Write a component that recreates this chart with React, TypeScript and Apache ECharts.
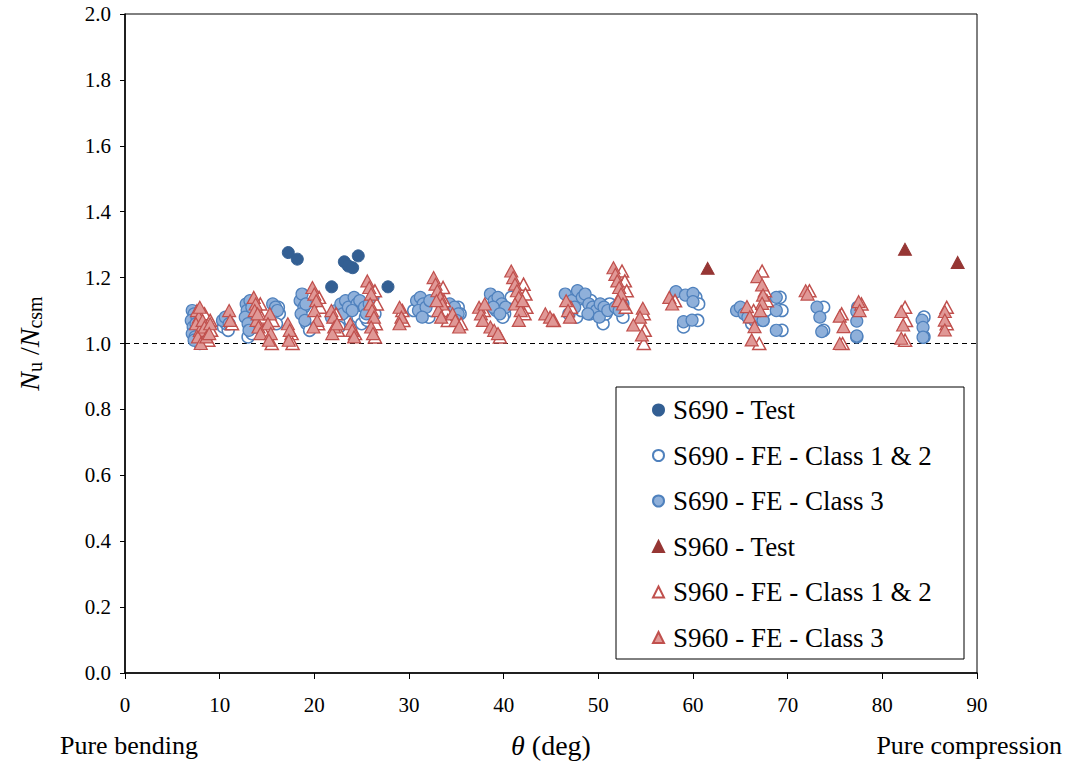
import React, { useEffect, useRef } from "react";
import * as echarts from "echarts";

const X_TICKS = [0, 10, 20, 30, 40, 50, 60, 70, 80, 90];
const Y_TICKS = [0, 0.2, 0.4, 0.6, 0.8, 1.0, 1.2, 1.4, 1.6, 1.8, 2.0];

const S690_TEST: number[][] = [
  [17.25, 1.276], [18.2, 1.256], [21.83, 1.172], [23.17, 1.248], [23.59, 1.235],
  [24.05, 1.23], [24.64, 1.266], [27.78, 1.172],
];

const S690_FE_12: number[][] = [
  [7.8, 1.07], [7.6, 1.03], [7.9, 1.0], [10.4, 1.05], [10.9, 1.04], [10.7, 1.06],
  [13.0, 1.02], [13.4, 1.03], [13.8, 1.05], [13.5, 1.07], [16.3, 1.09], [16.0, 1.06], [16.2, 1.11],
  [19.2, 1.06], [19.5, 1.04], [19.6, 1.08], [19.3, 1.1], [23.8, 1.07], [24.6, 1.08], [25.0, 1.06],
  [25.6, 1.07], [26.4, 1.09], [22.6, 1.05], [23.6, 1.1], [25.4, 1.08], [32.1, 1.08], [32.4, 1.1],
  [30.5, 1.1], [35.2, 1.11], [35.4, 1.09], [34.9, 1.08], [40.1, 1.09], [40.5, 1.12], [40.8, 1.14],
  [39.9, 1.08], [47.7, 1.08], [48.2, 1.1], [49.1, 1.09], [50.5, 1.06], [50.8, 1.09], [51.2, 1.12],
  [49.2, 1.13], [46.9, 1.09], [52.6, 1.08], [52.5, 1.12], [60.5, 1.07], [60.3, 1.14], [59.0, 1.05],
  [60.6, 1.12], [67.4, 1.07], [66.2, 1.06], [69.2, 1.14], [69.4, 1.1], [69.4, 1.04], [67.7, 1.1],
  [73.8, 1.11], [73.8, 1.04], [77.4, 1.11], [77.3, 1.02], [84.4, 1.08], [84.4, 1.02],
];

const S690_FE_3: number[][] = [
  [7.1, 1.1], [7.3, 1.09], [7.0, 1.07], [7.2, 1.05], [7.1, 1.03], [7.4, 1.02], [7.6, 1.08],
  [7.5, 1.06], [7.3, 1.01], [10.3, 1.07], [10.6, 1.08], [11.0, 1.06],
  [12.8, 1.12], [12.9, 1.1], [12.7, 1.08], [13.0, 1.06], [13.2, 1.13], [13.4, 1.11], [13.1, 1.04],
  [15.6, 1.12], [15.9, 1.11], [16.1, 1.1], [18.5, 1.13], [18.7, 1.15], [18.9, 1.11], [18.6, 1.09],
  [19.1, 1.12], [19.0, 1.07], [21.8, 1.08], [22.3, 1.1], [22.8, 1.12], [23.3, 1.13], [23.0, 1.09],
  [23.6, 1.11], [24.2, 1.14], [24.5, 1.12], [24.0, 1.1], [24.8, 1.13], [25.3, 1.11], [25.8, 1.12],
  [26.2, 1.14], [25.5, 1.09], [30.8, 1.13], [31.2, 1.14], [31.5, 1.12], [31.0, 1.1], [31.8, 1.11],
  [32.2, 1.13], [31.4, 1.08], [34.3, 1.12], [34.8, 1.11], [35.2, 1.09], [35.0, 1.07],
  [38.6, 1.15], [39.0, 1.13], [39.4, 1.14], [39.8, 1.12], [39.2, 1.1], [40.2, 1.11], [38.9, 1.11],
  [39.6, 1.09], [46.5, 1.15], [47.2, 1.13], [47.8, 1.16], [48.3, 1.14], [48.6, 1.15], [49.0, 1.12],
  [49.4, 1.11], [49.8, 1.1], [50.2, 1.12], [50.6, 1.11], [47.5, 1.11], [48.9, 1.09], [50.1, 1.08],
  [51.0, 1.1], [51.8, 1.11], [52.2, 1.1], [52.6, 1.12], [58.2, 1.157], [59.2, 1.147], [60.0, 1.152],
  [60.0, 1.127], [59.0, 1.066], [59.9, 1.071], [64.6, 1.1], [65.0, 1.11], [65.4, 1.09], [65.8, 1.08],
  [66.5, 1.07], [67.0, 1.08], [67.4, 1.07], [68.8, 1.14], [68.8, 1.1], [68.8, 1.04],
  [73.1, 1.11], [73.4, 1.08], [73.6, 1.036], [77.3, 1.097], [77.3, 1.068], [77.3, 1.023],
  [84.2, 1.071], [84.3, 1.049], [84.3, 1.019],
];

const S960_TEST: number[][] = [[61.55, 1.228], [82.39, 1.286], [87.96, 1.246]];

const S960_FE_12: number[][] = [
  [8.4, 1.09], [8.8, 1.01], [9.1, 1.04], [9.0, 1.07], [11.3, 1.06], [14.3, 1.12], [14.6, 1.04],
  [14.4, 1.08], [15.6, 1.07], [15.5, 1.0], [17.6, 1.03], [17.7, 1.0], [20.5, 1.14], [20.6, 1.11],
  [20.4, 1.06], [22.5, 1.04], [22.3, 1.09], [24.3, 1.03], [26.4, 1.16], [26.6, 1.12], [26.5, 1.06],
  [26.4, 1.02], [29.3, 1.1], [29.4, 1.07], [33.6, 1.17], [33.7, 1.13], [33.9, 1.1], [34.1, 1.07],
  [35.5, 1.06], [37.9, 1.1], [39.6, 1.02], [42.1, 1.18], [42.3, 1.15], [42.4, 1.11], [42.2, 1.09],
  [45.3, 1.07], [47.1, 1.11], [52.5, 1.22], [52.8, 1.19], [53.0, 1.16], [52.9, 1.11], [54.8, 1.09],
  [54.9, 1.04], [54.8, 1.0], [58.1, 1.13], [67.3, 1.22], [67.6, 1.16], [67.8, 1.13], [67.0, 1.0],
  [66.4, 1.1], [72.3, 1.16], [75.7, 1.09], [75.8, 1.0], [77.8, 1.12], [82.4, 1.11], [82.5, 1.07],
  [82.4, 1.01], [86.8, 1.11], [86.8, 1.06],
];

const S960_FE_3: number[][] = [
  [7.6, 1.1], [7.8, 1.08], [7.5, 1.06], [7.9, 1.04], [7.7, 1.02], [8.0, 1.0], [8.2, 1.07],
  [8.4, 1.05], [8.6, 1.02], [9.0, 1.06], [8.9, 1.03], [7.9, 1.11], [11.0, 1.1], [11.1, 1.07],
  [13.6, 1.14], [13.8, 1.12], [13.7, 1.1], [13.9, 1.07], [14.1, 1.05], [14.3, 1.03], [14.0, 1.09],
  [15.3, 1.09], [15.1, 1.06], [15.4, 1.03], [15.2, 1.01], [17.2, 1.06], [17.4, 1.04], [17.3, 1.01],
  [19.8, 1.17], [20.0, 1.15], [20.2, 1.13], [20.0, 1.1], [20.3, 1.07], [19.9, 1.05],
  [21.8, 1.1], [22.0, 1.08], [22.1, 1.05], [21.9, 1.03], [22.4, 1.06], [23.8, 1.06], [24.0, 1.04],
  [24.2, 1.02], [25.6, 1.19], [25.8, 1.17], [26.0, 1.15], [25.9, 1.12], [26.1, 1.1], [26.3, 1.08],
  [26.0, 1.05], [26.2, 1.03], [29.0, 1.11], [29.2, 1.08], [29.0, 1.06], [32.6, 1.2], [32.8, 1.18],
  [33.0, 1.16], [33.3, 1.14], [33.5, 1.12], [33.1, 1.1], [33.4, 1.08], [32.9, 1.13], [34.6, 1.09],
  [34.9, 1.07], [35.3, 1.05], [37.4, 1.11], [37.6, 1.09], [37.8, 1.07], [38.0, 1.12], [38.6, 1.05],
  [39.0, 1.04], [39.4, 1.03], [40.8, 1.22], [41.0, 1.2], [41.2, 1.18], [41.4, 1.16], [41.6, 1.14],
  [41.2, 1.12], [41.8, 1.1], [42.0, 1.13], [41.6, 1.07], [44.4, 1.09], [44.9, 1.08], [45.2, 1.07],
  [46.6, 1.13], [46.8, 1.1], [47.0, 1.08], [51.6, 1.23], [51.8, 1.21], [52.0, 1.19], [52.2, 1.17],
  [52.4, 1.15], [52.1, 1.13], [52.6, 1.12], [54.7, 1.107], [54.4, 1.08], [53.7, 1.056], [54.6, 1.026],
  [57.5, 1.14], [57.8, 1.12], [65.7, 1.112], [66.0, 1.081], [66.5, 1.051], [66.2, 1.011],
  [66.8, 1.203], [67.3, 1.178], [67.4, 1.147], [67.3, 1.122], [67.1, 1.1], [71.9, 1.16], [72.1, 1.15],
  [75.5, 1.083], [75.9, 1.051], [75.5, 1.0], [77.5, 1.127], [77.6, 1.1], [82.0, 1.097], [82.2, 1.056],
  [82.0, 1.016], [86.6, 1.097], [86.6, 1.071], [86.6, 1.041],
];

const REF_LINE: number[][] = [[0, 1], [90, 1]];

const NAMES = [
  "S690 - Test",
  "S690 - FE - Class 1 & 2",
  "S690 - FE - Class 3",
  "S960 - Test",
  "S960 - FE - Class 1 & 2",
  "S960 - FE - Class 3",
];

const FONT = "'Liberation Serif', 'Times New Roman', serif";

export default function App() {
  const ref = useRef<HTMLDivElement>(null);
  useEffect(() => {
    document.body.style.margin = "0";
    if (!ref.current) return;
    const chart = echarts.init(ref.current, null, { renderer: "svg" });
    const circle = (name: string, data: number[][], fill: string, border: string, bw: number) => ({
      name, type: "scatter", data, symbol: "circle", symbolSize: 12,
      itemStyle: { color: fill, borderColor: border, borderWidth: bw, opacity: 1 },
    });
    const tri = (name: string, data: number[][], fill: string, border: string, bw: number) => ({
      name, type: "scatter", data, symbol: "triangle", symbolSize: [13, 12],
      itemStyle: { color: fill, borderColor: border, borderWidth: bw, opacity: 1 },
    });
    chart.setOption({
      animation: false,
      textStyle: { fontFamily: FONT },
      grid: { left: 125, right: 93, top: 14, bottom: 91, show: true, borderColor: "#000", borderWidth: 1 },
      xAxis: {
        type: "value", min: 0, max: 90, interval: 10,
        name: "{i|θ} (deg)", nameLocation: "middle", nameGap: 58,
        nameTextStyle: {
          fontFamily: FONT, fontSize: 28, color: "#000",
          rich: { i: { fontStyle: "italic", fontFamily: FONT, fontSize: 28, color: "#000" } },
        },
        axisLine: { show: true, lineStyle: { color: "#000", width: 1.5 } },
        axisTick: { show: true, inside: false, length: 6, lineStyle: { color: "#000" } },
        axisLabel: { fontFamily: FONT, fontSize: 21, color: "#000", margin: 21 },
        splitLine: { show: false },
      },
      yAxis: {
        type: "value", min: 0, max: 2, interval: 0.2,
        name: "{n|N}{s|u}{t| /}{n|N}{s|csm}", nameLocation: "middle", nameGap: 80, nameRotate: 90,
        nameTextStyle: {
          fontFamily: FONT, fontSize: 28, color: "#000",
          rich: {
            n: { fontStyle: "italic", fontFamily: FONT, fontSize: 28, color: "#000" },
            t: { fontFamily: FONT, fontSize: 28, color: "#000" },
            s: { fontFamily: FONT, fontSize: 20, color: "#000", padding: [12, 0, 0, 0] },
          },
        },
        axisLine: { show: true, lineStyle: { color: "#000", width: 1.5 } },
        axisTick: { show: true, inside: false, length: 5, lineStyle: { color: "#000" } },
        axisLabel: {
          fontFamily: FONT, fontSize: 21, color: "#000", margin: 14,
          formatter: (v: number) => v.toFixed(1),
        },
        splitLine: { show: false },
      },
      legend: {
        data: NAMES, orient: "vertical", left: 647, top: 390,
        itemWidth: 11, itemHeight: 11, itemGap: 15.5,
        textStyle: { fontFamily: FONT, fontSize: 27, color: "#000", lineHeight: 30, padding: [0, 0, 0, 4] },
      },
      graphic: [
        { type: "rect", shape: { x: 616, y: 387, width: 348, height: 272 }, style: { fill: "none", stroke: "#000", lineWidth: 1 }, z: 100 },
        { type: "text", x: 60, y: 745, style: { text: "Pure bending", font: `26px ${FONT}`, fill: "#000", verticalAlign: "middle" } },
        { type: "text", x: 1062, y: 745, style: { text: "Pure compression", font: `26px ${FONT}`, fill: "#000", align: "right", verticalAlign: "middle" } },
      ],
      series: [
        { type: "line", data: REF_LINE, symbol: "none", silent: true, lineStyle: { color: "#000", width: 1, type: [5, 4] }, z: 1 },
        circle(NAMES[0], S690_TEST, "#335F93", "#335F93", 1),
        circle(NAMES[1], S690_FE_12, "#ffffff", "#4F81BD", 1.5),
        circle(NAMES[2], S690_FE_3, "#8FB0DA", "#4F81BD", 1.2),
        tri(NAMES[3], S960_TEST, "#963634", "#963634", 1),
        tri(NAMES[4], S960_FE_12, "#ffffff", "#C0504D", 1.5),
        tri(NAMES[5], S960_FE_3, "#E09896", "#C0504D", 1.2),
      ],
    });
    return () => chart.dispose();
  }, []);
  return <div ref={ref} style={{ width: 1070, height: 764 }} />;
}
